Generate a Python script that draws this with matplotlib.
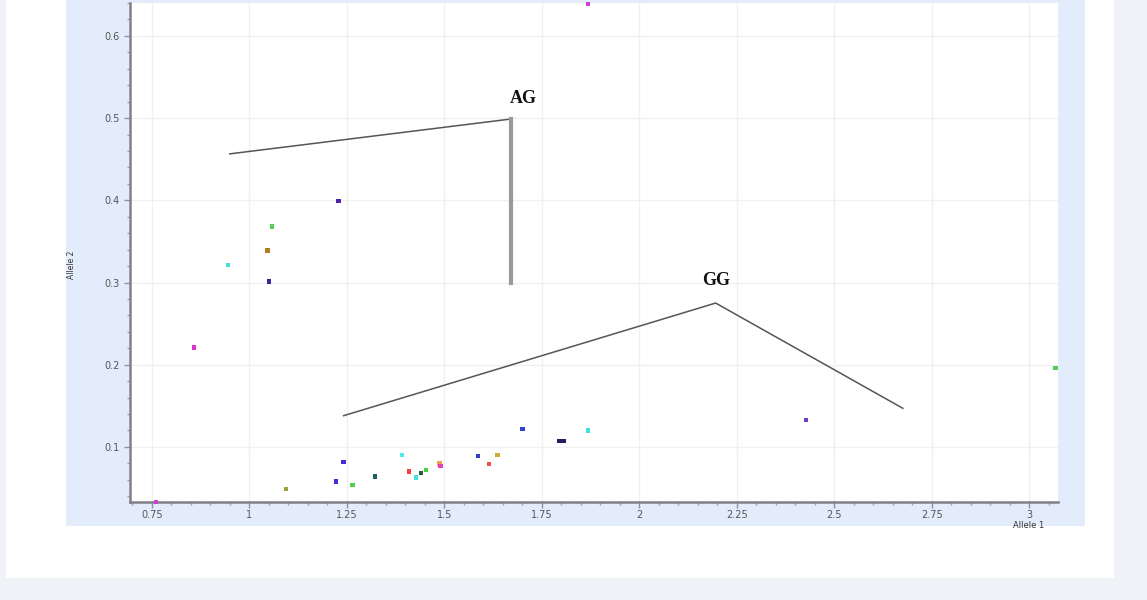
import matplotlib.pyplot as plt
from matplotlib.patches import Rectangle
from matplotlib.ticker import MultipleLocator

# Genotype cluster plot: Allele 1 vs Allele 2 signal per sample
allele1 = [1.868, 1.229, 1.058, 1.047, 0.945, 1.050, 0.858, 3.068, 2.427,
           1.701, 1.796, 1.806, 1.868, 1.391, 1.242, 1.586, 1.637, 1.614,
           1.488, 1.490, 1.409, 1.453, 1.440, 1.427, 1.322, 1.222, 1.265,
           1.094, 0.760]
allele2 = [0.639, 0.399, 0.368, 0.339, 0.321, 0.301, 0.221, 0.196, 0.133,
           0.122, 0.107, 0.107, 0.120, 0.090, 0.0815, 0.089, 0.090, 0.079,
           0.080, 0.077, 0.070, 0.072, 0.068, 0.063, 0.064, 0.058, 0.054,
           0.049, 0.033]
colors = ["#d040d8", "#5020b0", "#50d050", "#b08020", "#40e0e0", "#4020a0",
          "#e030c8", "#50d050", "#7040c0", "#3040d0", "#202060", "#202060",
          "#40e0e0", "#50e8e8", "#4030d0", "#3040c0", "#d0b030", "#f05040",
          "#f0a040", "#e040c0", "#f04040", "#40d040", "#206040", "#40e0e0",
          "#206060", "#4030d0", "#50d050", "#a0a040", "#d040d0"]

# Cluster call outlines and their labels
ag_line_x = [0.95, 1.673]
ag_line_y = [0.4565, 0.499]
ag_stem_x = [1.672, 1.672]
ag_stem_y = [0.499, 0.300]
gg_line_x = [1.242, 2.196, 2.676]
gg_line_y = [0.138, 0.275, 0.147]
call_labels = ["AG", "GG"]
call_label_x = [1.704, 2.196]
call_label_y = [0.524, 0.303]

fig = plt.figure(figsize=(11.47, 6.0), dpi=100)
fig.patch.set_facecolor("#eff3f8")

# page panel and chart background
fig.add_artist(Rectangle((6 / 1147, 22 / 600), 1108 / 1147, 578 / 600,
                         transform=fig.transFigure, fc="white", ec="none", zorder=0))
fig.add_artist(Rectangle((66 / 1147, 74 / 600), 1019 / 1147, 526 / 600,
                         transform=fig.transFigure, fc="#e3ecfb", ec="none", zorder=0))

ax = fig.add_axes([130 / 1147, 98 / 600, 928 / 1147, 499 / 600])
ax.set_facecolor("white")
ax.set_xlim(0.694, 3.074)
ax.set_ylim(0.033, 0.640)

ax.xaxis.set_major_locator(MultipleLocator(0.25))
ax.xaxis.set_minor_locator(MultipleLocator(0.05))
ax.yaxis.set_major_locator(MultipleLocator(0.1))
ax.yaxis.set_minor_locator(MultipleLocator(0.02))
ax.set_xticks([0.75, 1, 1.25, 1.5, 1.75, 2, 2.25, 2.5, 2.75, 3])
ax.set_xticklabels(["0.75", "1", "1.25", "1.5", "1.75", "2", "2.25", "2.5", "2.75", "3"])
ax.grid(True, which="major", color="#f0f0f0", linewidth=1.0)
ax.set_axisbelow(True)

for side in ["top", "right"]:
    ax.spines[side].set_visible(False)
for side in ["left", "bottom"]:
    ax.spines[side].set_color("#808088")
    ax.spines[side].set_linewidth(1.8)
ax.tick_params(which="major", length=4, width=1, color="#9090a0",
               labelsize=7, labelcolor="#555555")
ax.tick_params(axis="x", which="major", pad=2)
ax.tick_params(which="minor", length=2.5, width=1, color="#a0a0b0")

ax.plot(ag_line_x, ag_line_y, color="#555555", lw=1.1, zorder=2)
ax.plot(ag_stem_x, ag_stem_y, color="#9a9a9a", lw=3.0, zorder=2)
ax.plot(gg_line_x, gg_line_y, color="#555555", lw=1.1, zorder=2)
for lab, lx, ly in zip(call_labels, call_label_x, call_label_y):
    ax.text(lx, ly, lab, fontsize=13, fontweight="bold", family="Liberation Serif",
            color="#111111", ha="center", va="center", zorder=3)

ax.scatter(allele1, allele2, c=colors, marker="s", s=10, linewidths=0,
           zorder=4, clip_on=False)

fig.text(72 / 1147, 1 - 265 / 600, "Allele 2", rotation=90, fontsize=5.5,
         color="#333333", ha="center", va="center")
fig.text(1044 / 1147, 1 - 526 / 600, "Allele 1", fontsize=6, color="#333333",
         ha="right", va="center")

fig.savefig("out.png", dpi=100, facecolor=fig.get_facecolor())
